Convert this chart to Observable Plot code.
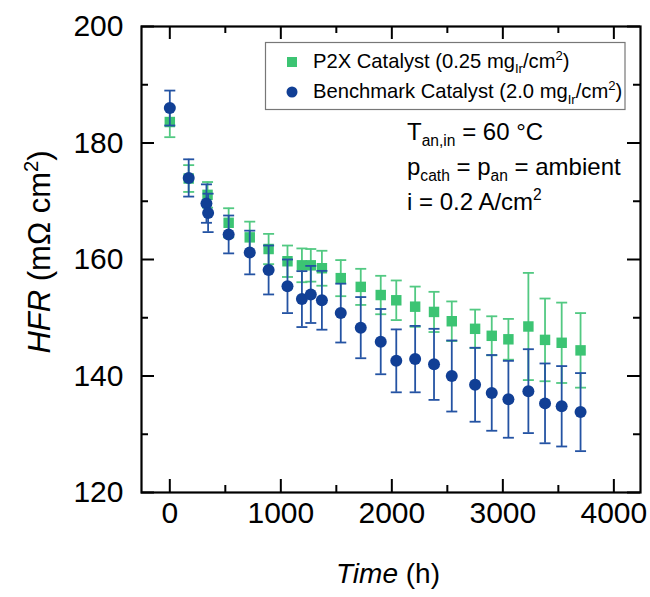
<!DOCTYPE html>
<html><head><meta charset="utf-8">
<script src="https://cdn.jsdelivr.net/npm/d3@7"></script>
<script src="https://cdn.jsdelivr.net/npm/@observablehq/plot@0.6"></script>
<style>html,body{margin:0;padding:0;background:#fff}#chart svg{display:block}</style>
</head><body><div id="chart"></div>
<script>
// ---- data ----
const p2xTime = [0, 170, 340, 530, 720, 890, 1060, 1190, 1270, 1370, 1540, 1720, 1900, 2040, 2210, 2380, 2540, 2750, 2900, 3050, 3230, 3380, 3530, 3700];
const p2xHFR  = [183.6, 173.9, 171.1, 166.3, 163.8, 161.8, 159.7, 159.0, 159.0, 158.5, 156.8, 155.3, 153.9, 153.0, 151.9, 151.0, 149.4, 148.1, 146.9, 146.3, 148.5, 146.2, 145.7, 144.4];
const p2xErr  = [2.6, 2.3, 2.2, 2.5, 2.7, 2.6, 2.7, 2.9, 2.8, 3.0, 3.1, 3.1, 3.3, 3.4, 3.45, 3.45, 3.4, 3.3, 3.35, 3.5, 9.2, 7.1, 6.9, 6.4];

const benchTime = [0, 170, 330, 345, 530, 720, 890, 1060, 1190, 1270, 1370, 1540, 1720, 1900, 2040, 2210, 2380, 2540, 2750, 2900, 3050, 3230, 3380, 3530, 3700];
const benchHFR  = [186.0, 174.0, 169.6, 168.0, 164.3, 161.2, 158.2, 155.4, 153.2, 154.0, 153.0, 150.8, 148.3, 145.9, 142.6, 142.9, 142.0, 140.0, 138.5, 137.1, 136.0, 137.4, 135.3, 134.8, 133.8];
const benchErr  = [3.0, 3.2, 3.3, 3.3, 3.25, 3.75, 4.2, 4.6, 4.8, 4.9, 5.05, 5.05, 5.25, 5.6, 5.4, 5.7, 6.1, 6.1, 6.35, 6.5, 6.6, 7.2, 6.85, 6.9, 6.7];

const xTicks = [0, 1000, 2000, 3000, 4000];
const xMinor = [500, 1500, 2500, 3500];
const yTicks = [120, 140, 160, 180, 200];
const yMinor = [130, 150, 170, 190];

const seriesNames = ["P2X Catalyst", "Benchmark Catalyst"];

// ---- styling ----
const green = "#3cc473", greenBar = "#52c982";
const blue = "#113f95", blueBar = "#2453a3";
const font = "'Liberation Sans', Arial, Helvetica, sans-serif";

const p2x = p2xTime.map((t, i) => ({t, v: p2xHFR[i], e: p2xErr[i]}));
const bench = benchTime.map((t, i) => ({t, v: benchHFR[i], e: benchErr[i]}));

const W = 650, H = 597, mt = 26, mb = 105, ml = 141, mr = 10;
const innerH = H - mt - mb, innerW = W - ml - mr;
const major = 13, minor = 7;

const cap = {draw(ctx) { ctx.moveTo(-5.5, 0); ctx.lineTo(5.5, 0); }};

function errMarks(data, color) {
  return [
    Plot.ruleX(data, {x: "t", y1: d => d.v - d.e, y2: d => d.v + d.e, stroke: color, strokeWidth: 1.8}),
    Plot.dot(data, {x: "t", y: d => d.v + d.e, symbol: cap, stroke: color, strokeWidth: 1.8, r: 5}),
    Plot.dot(data, {x: "t", y: d => d.v - d.e, symbol: cap, stroke: color, strokeWidth: 1.8, r: 5})
  ];
}

const chart = Plot.plot({
  width: W, height: H,
  marginTop: mt, marginBottom: mb, marginLeft: ml, marginRight: mr,
  style: {fontFamily: font, background: "#fff", color: "#000"},
  x: {domain: [-255, 4240]},
  y: {domain: [120, 200]},
  marks: [
    Plot.axisX(xTicks, {tickSize: 0, tickPadding: 9, fontSize: 30, label: null, tickFormat: d => String(d)}),
    Plot.axisY(yTicks, {tickSize: 0, tickPadding: 18, fontSize: 30, label: null, tickFormat: d => String(d)}),
    // inward ticks on all four sides
    Plot.ruleX(xTicks, {x: d => d, insetTop: innerH - major, stroke: "#000", strokeWidth: 2}),
    Plot.ruleX(xMinor, {x: d => d, insetTop: innerH - minor, stroke: "#000", strokeWidth: 2}),
    Plot.ruleX(xTicks, {x: d => d, insetBottom: innerH - major, stroke: "#000", strokeWidth: 2}),
    Plot.ruleX(xMinor, {x: d => d, insetBottom: innerH - minor, stroke: "#000", strokeWidth: 2}),
    Plot.ruleY(yTicks, {y: d => d, insetRight: innerW - major, stroke: "#000", strokeWidth: 2}),
    Plot.ruleY(yMinor, {y: d => d, insetRight: innerW - minor, stroke: "#000", strokeWidth: 2}),
    Plot.ruleY(yTicks, {y: d => d, insetLeft: innerW - major, stroke: "#000", strokeWidth: 2}),
    Plot.ruleY(yMinor, {y: d => d, insetLeft: innerW - minor, stroke: "#000", strokeWidth: 2}),
    ...errMarks(p2x, greenBar),
    Plot.dot(p2x, {x: "t", y: "v", symbol: "square", r: 5.9, fill: green}),
    ...errMarks(bench, blueBar),
    Plot.dot(bench, {x: "t", y: "v", symbol: "circle", r: 6, fill: blue}),
    Plot.frame({stroke: "#000", strokeWidth: 2.2})
  ]
});
document.getElementById("chart").append(chart);

// ---- text: axis titles, legend, annotation ----
const svg = d3.select(chart);
function rich(g, x, y, parts, size, extra = {}) {
  const t = g.append("text").attr("x", x).attr("y", y)
    .attr("font-family", font).attr("font-size", size).attr("fill", "#000")
    .attr("text-anchor", extra.anchor || "start");
  if (extra.transform) t.attr("transform", extra.transform).attr("x", 0).attr("y", 0);
  let shift = 0;
  for (const p of parts) {
    const s = t.append("tspan").text(p.t);
    let target = 0, fs = size;
    if (p.sub) { target = size * 0.28; fs = size * 0.65; }
    if (p.sup) { target = -size * 0.38; fs = size * 0.65; }
    s.attr("font-size", fs);
    if (target !== shift) { s.attr("dy", target - shift); shift = target; }
    if (p.italic) s.attr("font-style", "italic");
  }
  return t;
}

const g = svg.append("g");
// y title
rich(g, 0, 0, [{t: "HFR", italic: true}, {t: " (mΩ cm"}, {t: "2", sup: true}, {t: ")"}], 31,
  {anchor: "middle", transform: "translate(50,252) rotate(-90)"});
// x title
rich(g, 388, 583, [{t: "Time", italic: true}, {t: " (h)"}], 28, {anchor: "middle"});

// legend
g.append("rect").attr("x", 265.5).attr("y", 42.5).attr("width", 359.5).attr("height", 67)
  .attr("fill", "#fff").attr("stroke", "#777").attr("stroke-width", 1.2);
g.append("rect").attr("x", 287).attr("y", 57).attr("width", 10).attr("height", 10).attr("fill", green);
g.append("circle").attr("cx", 292).attr("cy", 92).attr("r", 5.5).attr("fill", blue);
rich(g, 313, 67.5, [{t: seriesNames[0] + " (0.25 mg"}, {t: "Ir", sub: true}, {t: "/cm"}, {t: "2", sup: true}, {t: ")"}], 20.2);
rich(g, 313, 98, [{t: seriesNames[1] + " (2.0 mg"}, {t: "Ir", sub: true}, {t: "/cm"}, {t: "2", sup: true}, {t: ")"}], 20.2);

// conditions
rich(g, 407, 139.5, [{t: "T"}, {t: "an,in", sub: true}, {t: " = 60 °C"}], 24);
rich(g, 407, 174.5, [{t: "p"}, {t: "cath", sub: true}, {t: " = p"}, {t: "an", sub: true}, {t: " = ambient"}], 24);
rich(g, 407, 209.5, [{t: "i = 0.2 A/cm"}, {t: "2", sup: true}], 24);
</script>
</body></html>
